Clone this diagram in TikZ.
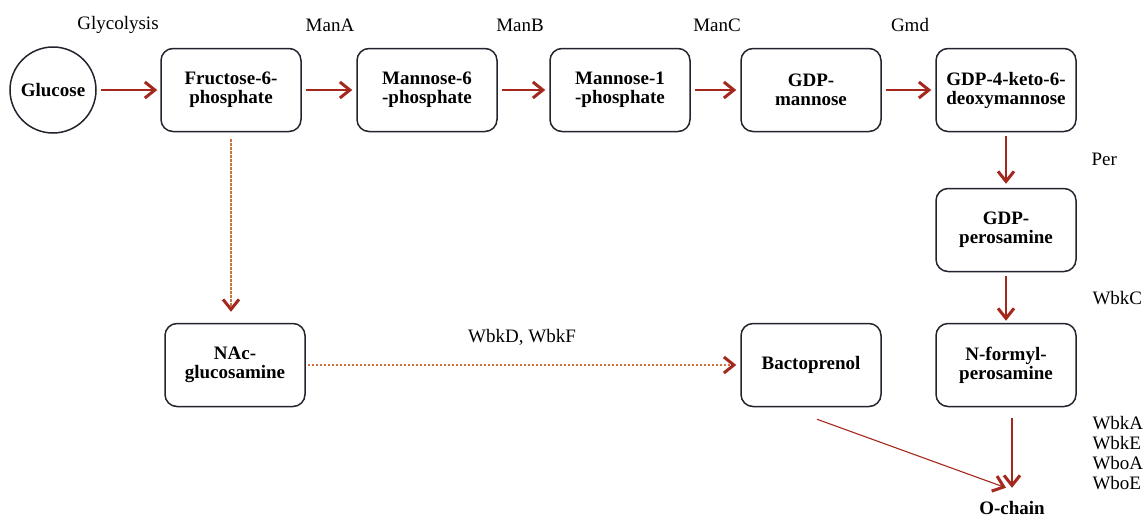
\documentclass[tikz,border=0pt]{standalone}
\usepackage{fontspec}
\setmainfont{Liberation Serif}
\usetikzlibrary{arrows.meta}
\definecolor{arrowred}{RGB}{165,40,30}
\definecolor{dashbrown}{RGB}{205,115,60}
\definecolor{boxline}{RGB}{35,35,45}

\begin{document}
\begin{tikzpicture}[x=1pt, y=-1pt,
  compound/.style={rectangle, draw=boxline, line width=1.5pt, rounded corners=12pt, minimum width=140pt, minimum height=83pt, align=center, font=\fontsize{19}{19}\selectfont\bfseries},
  enzyme/.style={font=\fontsize{19}{20}\selectfont},
  flow/.style={draw=arrowred, line width=1.1pt, shorten <=4pt, shorten >=4pt, -{Straight Barb[length=10pt,width=16pt,line width=3pt,color=arrowred]}},
  sideflow/.style={flow, draw=dashbrown, dash pattern=on 2.5pt off 1.5pt}]
  \useasboundingbox (0,0) rectangle (1147,517);

  % main route
  \node[circle, draw=boxline, line width=1.5pt, minimum size=86pt, font=\fontsize{19}{19}\selectfont\bfseries] (glucose) at (53,90) {Glucose};
  \node[compound] (fru6p) at (231,90) {Fructose-6-\\phosphate};
  \node[compound] (man6p) at (427,90) {Mannose-6\\-phosphate};
  \node[compound] (man1p) at (620,90) {Mannose-1\\-phosphate};
  \node[compound] (gdpman) at (811,90) {GDP-\\mannose};
  \node[compound] (gdpketo) at (1006,90) {GDP-4-keto-6-\\deoxymannose};
  \node[compound] (gdpper) at (1006,230) {GDP-\\perosamine};
  \node[compound] (nformyl) at (1006,365) {N-formyl-\\perosamine};
  \node[compound] (bacto) at (811,365) {Bactoprenol};
  \node[compound] (nacglc) at (235,365) {NAc-\\glucosamine};
  \node[font=\fontsize{19}{19}\selectfont\bfseries] (ochain) at (1012,508) {O-chain};

  % enzymes
  \node[enzyme] (glyco) at (118,25) {Glycolysis};
  \node[enzyme] (mana) at (330,25) {ManA};
  \node[enzyme] (manb) at (520,25) {ManB};
  \node[enzyme] (manc) at (717,25) {ManC};
  \node[enzyme] (gmd) at (910,25) {Gmd};
  \node[enzyme, anchor=west] (per) at (1088,159) {Per};
  \node[enzyme, anchor=west] (wbkc) at (1089,298) {WbkC};
  \node[enzyme] (wbkdf) at (522,337) {WbkD, WbkF};
  \node[enzyme, anchor=west, align=left] (wbkgroup) at (1089,453) {WbkA\\WbkE\\WboA\\WboE};

  % arrows
  \draw[flow, shorten >=3pt] (glucose) -- (fru6p);
  \foreach \a/\b in {fru6p/man6p, man6p/man1p, man1p/gdpman, gdpman/gdpketo}
    \draw[flow] (\a) -- (\b);
  \draw[flow] (gdpketo) -- (gdpper);
  \draw[flow, shorten >=2pt] (gdpper) -- (nformyl);
  \draw[sideflow, shorten <=7pt, shorten >=11pt] (fru6p.south) -- (fru6p.south |- nacglc.north);
  \draw[sideflow, shorten <=2pt] (nacglc) -- (bacto);
  \draw[flow, shorten <=11pt, shorten >=10pt] (nformyl.south -| ochain.north) -- (ochain.north);
  \draw[flow, shorten <=0pt, shorten >=0pt] ([shift={(6,12)}]bacto.south) -- ([shift={(-6,-10)}]ochain.north);
\end{tikzpicture}
\end{document}
